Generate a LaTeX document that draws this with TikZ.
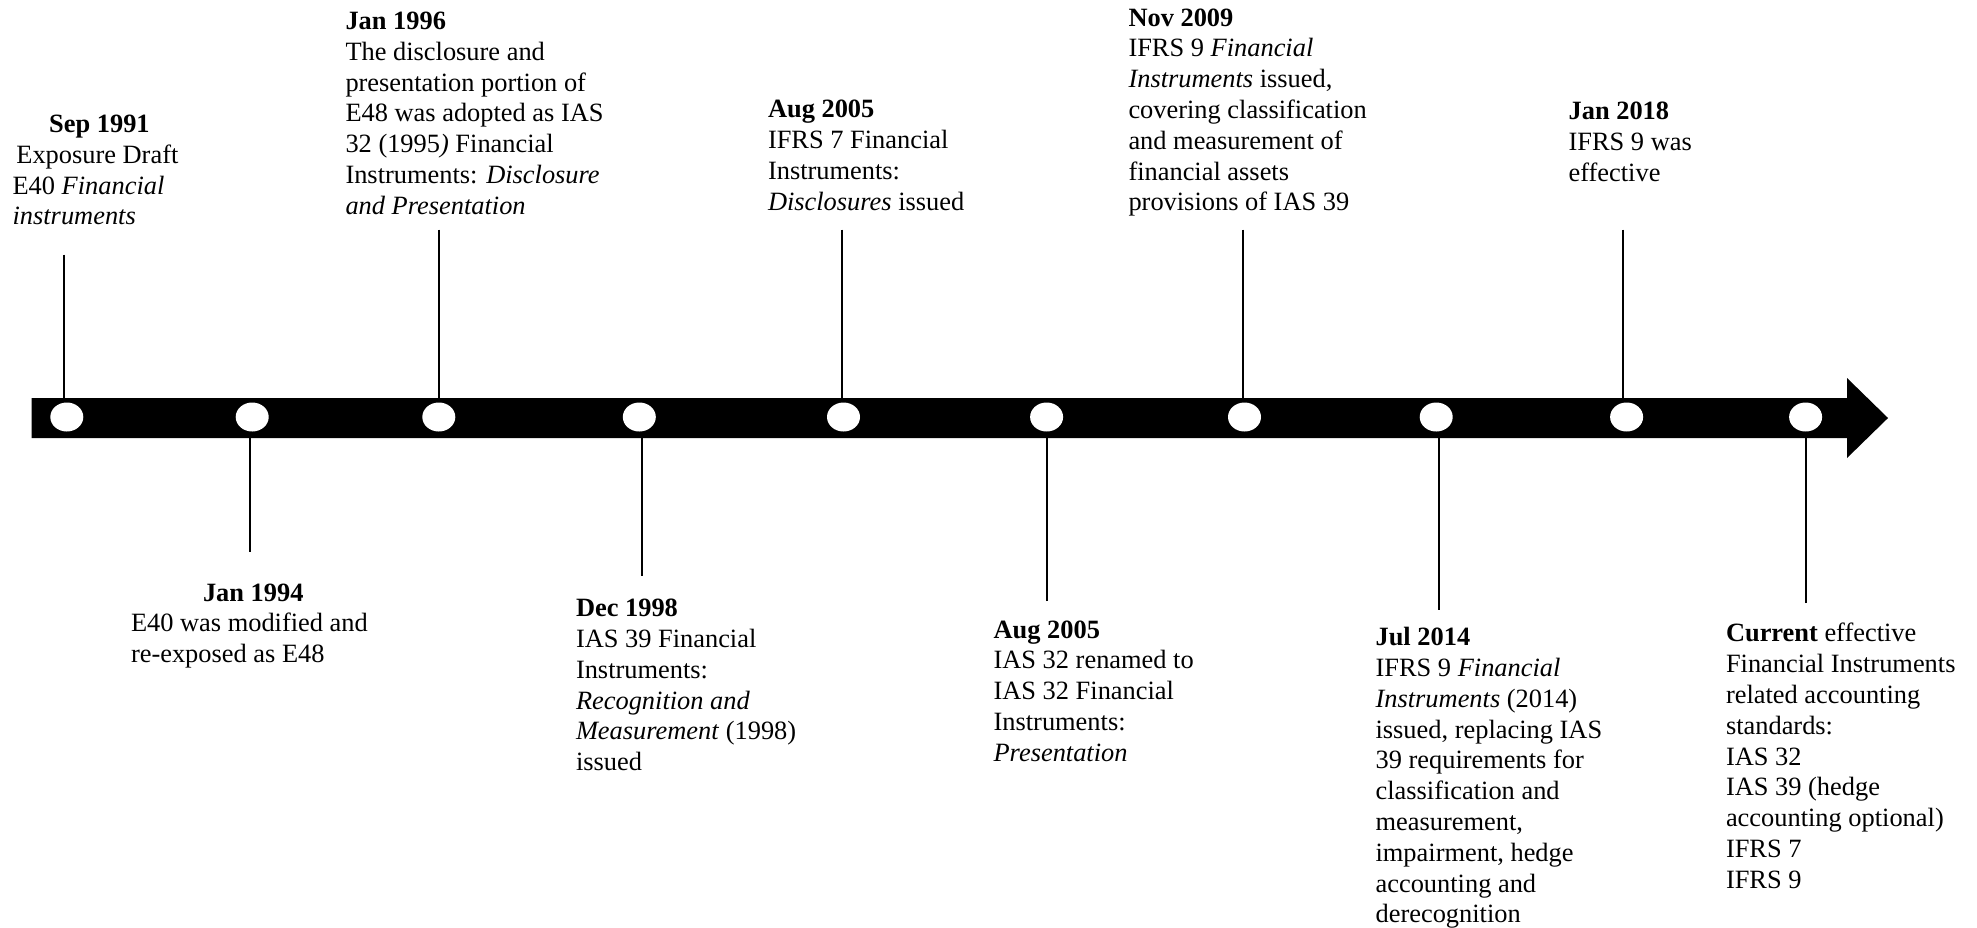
\documentclass[tikz,border=0pt]{standalone}
\usepackage{fontspec}
\setmainfont{Liberation Serif}
\usetikzlibrary{shapes.geometric}
\begin{document}
\begin{tikzpicture}[x=1pt,y=-1pt,
  every node/.style={inner sep=0pt, outer sep=0pt},
  txt/.style={anchor=base west, align=left, font=\fontsize{26.4}{30.8}\selectfont},
  dot/.style={ellipse, fill=white, minimum width=33pt, minimum height=29pt},
  stem/.style={line width=1.8pt}]
\useasboundingbox (0,0) rectangle (1977,927);
% timeline bar with arrow head
\fill[black] (31.5,398) -- (1847,398) -- (1847,378) -- (1888,418) -- (1847,458) -- (1847,438) -- (31.5,438) -- cycle;
\coordinate (bt) at (0,398.5);
\coordinate (bb) at (0,437.5);
% stems (free ends)
\coordinate (e1) at (64.3,254.7);
\coordinate (e2) at (249.7,551.5);
\coordinate (e3) at (438.8,229.5);
\coordinate (e4) at (641.8,575.5);
\coordinate (e5) at (842.3,229.5);
\coordinate (e6) at (1046.6,601);
\coordinate (e7) at (1243.3,229.5);
\coordinate (e8) at (1438.7,609.5);
\coordinate (e9) at (1622.8,229.5);
\coordinate (e10) at (1805.6,603);
\foreach \i in {1,3,5,7,9} {\draw[stem] (e\i) -- (e\i |- bt);}
\foreach \i in {2,4,6,8,10} {\draw[stem] (e\i) -- (e\i |- bb);}
% dots
\node[dot] (c1) at (66.8,417) {};
\node[dot] (c2) at (252.2,417) {};
\node[dot] (c3) at (438.8,417) {};
\node[dot] (c4) at (639.3,417) {};
\node[dot] (c5) at (843.5,417) {};
\node[dot] (c6) at (1046.6,417) {};
\node[dot] (c7) at (1244.5,417) {};
\node[dot] (c8) at (1436.2,417) {};
\node[dot] (c9) at (1626.6,417) {};
\node[dot] (c10) at (1805.6,417) {};
% texts (anchored at the baseline of their last line)
\node[txt] (t1) at (12.6,224.8) {\hspace*{36.6pt}\textbf{Sep 1991}\\\hspace*{3.8pt}Exposure Draft\\E40 \textit{Financial}\\\textit{instruments}};
\node[txt] (t2) at (345.5,214.3) {\textbf{Jan 1996}\\The disclosure and\\presentation portion of\\E48 was adopted as IAS\\32 (1995\textit{)} Financial\\Instruments: \textit{Disclosure}\\\textit{and Presentation}};
\node[txt] (t3) at (768,210.2) {\textbf{Aug 2005}\\IFRS 7 Financial\\Instruments:\\\textit{Disclosures} issued};
\node[txt] (t4) at (1128.5,210.8) {\textbf{Nov 2009}\\IFRS 9 \textit{Financial}\\\textit{Instruments} issued,\\covering classification\\and measurement of\\financial assets\\provisions of IAS 39};
\node[txt] (t5) at (1568.6,181.1) {\textbf{Jan 2018}\\IFRS 9 was\\effective};
\node[txt] (t6) at (131,662.6) {\hspace*{72pt}\textbf{Jan 1994}\\E40 was modified and\\re-exposed as E48};
\node[txt] (t7) at (576,770.6) {\textbf{Dec 1998}\\IAS 39 Financial\\Instruments:\\\textit{Recognition and}\\\textit{Measurement} (1998)\\issued};
\node[txt] (t8) at (993.6,761.2) {\textbf{Aug 2005}\\IAS 32 renamed to\\IAS 32 Financial\\Instruments:\\\textit{Presentation}};
\node[txt] (t9) at (1375.6,922.8) {\textbf{Jul 2014}\\IFRS 9 \textit{Financial}\\\textit{Instruments} (2014)\\issued, replacing IAS\\39 requirements for\\classification and\\measurement,\\impairment, hedge\\accounting and\\derecognition};
\node[txt] (t10) at (1726,888.2) {\textbf{Current} effective\\Financial Instruments\\related accounting\\standards:\\IAS 32\\IAS 39 (hedge\\accounting optional)\\IFRS 7\\IFRS 9};
\end{tikzpicture}
\end{document}
